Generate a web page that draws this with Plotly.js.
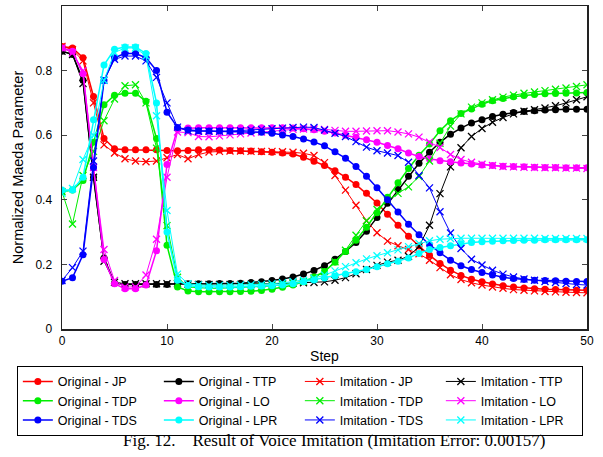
<!DOCTYPE html>
<html>
<head>
<meta charset="utf-8">
<script src="https://cdn.plot.ly/plotly-3.0.1.min.js"></script>
<style>html,body{margin:0;padding:0;background:#fff;}#chart{width:603px;height:457px;}</style>
</head>
<body>
<div id="chart"></div>
<script>
const steps = Array.from({length: 51}, (_, i) => i);

const origJP = [0.875,0.87,0.84,0.72,0.59,0.558,0.555,0.555,0.555,0.555,0.553,0.552,0.553,0.555,0.555,0.554,0.553,0.552,0.551,0.549,0.547,0.545,0.542,0.532,0.519,0.506,0.49,0.47,0.447,0.42,0.39,0.355,0.321,0.287,0.257,0.228,0.203,0.182,0.166,0.154,0.146,0.139,0.134,0.13,0.127,0.125,0.123,0.122,0.121,0.12,0.12];
const imitJP = [0.875,0.865,0.83,0.70,0.57,0.545,0.527,0.52,0.518,0.52,0.53,0.54,0.527,0.54,0.548,0.55,0.551,0.551,0.55,0.55,0.55,0.549,0.547,0.544,0.537,0.515,0.475,0.43,0.383,0.335,0.298,0.272,0.258,0.246,0.233,0.213,0.19,0.168,0.153,0.143,0.136,0.13,0.126,0.122,0.12,0.118,0.116,0.115,0.114,0.113,0.112];

const origTTP = [0.86,0.85,0.77,0.47,0.22,0.142,0.138,0.138,0.138,0.138,0.138,0.139,0.14,0.14,0.14,0.141,0.141,0.142,0.144,0.146,0.15,0.155,0.161,0.17,0.181,0.196,0.216,0.24,0.268,0.303,0.345,0.389,0.432,0.473,0.513,0.547,0.578,0.603,0.622,0.638,0.648,0.658,0.665,0.67,0.673,0.676,0.678,0.679,0.68,0.68,0.68];
const imitTTP = [0.86,0.85,0.76,0.47,0.21,0.145,0.14,0.14,0.14,0.14,0.14,0.14,0.139,0.138,0.138,0.138,0.138,0.138,0.138,0.139,0.14,0.141,0.142,0.143,0.144,0.146,0.151,0.159,0.171,0.184,0.197,0.207,0.213,0.225,0.255,0.321,0.419,0.502,0.561,0.596,0.621,0.64,0.655,0.666,0.674,0.679,0.684,0.691,0.70,0.71,0.719];

const origTDP = [0.425,0.43,0.46,0.578,0.694,0.724,0.73,0.73,0.705,0.59,0.259,0.13,0.118,0.115,0.115,0.115,0.115,0.116,0.117,0.119,0.123,0.129,0.136,0.146,0.161,0.178,0.207,0.24,0.275,0.315,0.36,0.408,0.453,0.497,0.538,0.573,0.614,0.645,0.667,0.681,0.696,0.707,0.714,0.719,0.723,0.726,0.728,0.729,0.73,0.731,0.732];
const imitTDP = [0.425,0.325,0.475,0.55,0.645,0.712,0.753,0.756,0.70,0.56,0.32,0.16,0.13,0.127,0.126,0.126,0.127,0.128,0.129,0.131,0.133,0.137,0.142,0.148,0.158,0.178,0.208,0.244,0.29,0.335,0.37,0.398,0.42,0.44,0.472,0.52,0.575,0.628,0.666,0.687,0.70,0.71,0.718,0.724,0.73,0.734,0.738,0.742,0.746,0.751,0.756];

const origTDS = [0.148,0.159,0.23,0.5,0.769,0.84,0.853,0.853,0.84,0.8,0.671,0.624,0.616,0.614,0.613,0.613,0.612,0.612,0.611,0.609,0.606,0.601,0.596,0.588,0.579,0.567,0.549,0.529,0.503,0.473,0.437,0.4,0.362,0.324,0.292,0.261,0.236,0.213,0.196,0.184,0.175,0.167,0.16,0.156,0.153,0.151,0.15,0.149,0.148,0.147,0.147];
const imitTDS = [0.15,0.19,0.241,0.52,0.77,0.835,0.845,0.845,0.83,0.779,0.70,0.625,0.613,0.612,0.612,0.612,0.613,0.614,0.616,0.618,0.62,0.622,0.624,0.625,0.624,0.616,0.606,0.596,0.58,0.563,0.552,0.545,0.537,0.516,0.475,0.437,0.363,0.297,0.249,0.216,0.198,0.182,0.17,0.161,0.155,0.151,0.147,0.144,0.141,0.138,0.136];

const origLO = [0.87,0.86,0.79,0.5,0.215,0.14,0.125,0.125,0.136,0.242,0.509,0.619,0.622,0.623,0.623,0.623,0.623,0.623,0.623,0.623,0.623,0.623,0.622,0.62,0.617,0.612,0.607,0.6,0.594,0.586,0.578,0.568,0.558,0.545,0.534,0.526,0.521,0.518,0.514,0.511,0.508,0.506,0.504,0.503,0.502,0.501,0.5,0.5,0.499,0.499,0.499];
const imitLO = [0.87,0.855,0.8,0.5,0.246,0.15,0.13,0.13,0.167,0.278,0.47,0.61,0.608,0.596,0.595,0.598,0.601,0.604,0.607,0.61,0.613,0.616,0.618,0.619,0.619,0.618,0.615,0.612,0.612,0.613,0.614,0.614,0.61,0.604,0.594,0.578,0.562,0.54,0.525,0.516,0.51,0.506,0.503,0.502,0.501,0.5,0.499,0.499,0.498,0.498,0.497];

const origLPR = [0.43,0.43,0.47,0.648,0.817,0.866,0.873,0.873,0.853,0.70,0.30,0.151,0.135,0.131,0.13,0.13,0.13,0.131,0.132,0.133,0.134,0.136,0.14,0.146,0.152,0.158,0.164,0.17,0.177,0.184,0.193,0.202,0.21,0.22,0.234,0.246,0.252,0.258,0.264,0.268,0.27,0.272,0.273,0.274,0.275,0.275,0.276,0.276,0.276,0.276,0.276];
const imitLPR = [0.42,0.435,0.525,0.6,0.77,0.856,0.87,0.87,0.845,0.66,0.367,0.17,0.14,0.136,0.135,0.135,0.135,0.136,0.137,0.138,0.14,0.143,0.147,0.151,0.157,0.167,0.18,0.193,0.205,0.217,0.227,0.236,0.245,0.255,0.265,0.273,0.278,0.28,0.281,0.281,0.281,0.281,0.281,0.281,0.281,0.281,0.28,0.28,0.28,0.28,0.28];

const xTicks = [0, 10, 20, 30, 40, 50];
const yTicks = [0, 0.2, 0.4, 0.6, 0.8, 1];

// series definitions: [name, values, color, kind, legend rank]
const series = [
  ['Original - JP',  origJP,  '#ff0000', 'orig', 1],
  ['Original - TTP', origTTP, '#000000', 'orig', 2],
  ['Imitation - JP', imitJP,  '#ff0000', 'imit', 3],
  ['Imitation - TTP',imitTTP, '#000000', 'imit', 4],
  ['Original - TDP', origTDP, '#00ee00', 'orig', 5],
  ['Original - LO',  origLO,  '#ff00ff', 'orig', 6],
  ['Imitation - TDP',imitTDP, '#00ee00', 'imit', 7],
  ['Imitation - LO', imitLO,  '#ff00ff', 'imit', 8],
  ['Original - TDS', origTDS, '#0000ff', 'orig', 9],
  ['Original - LPR', origLPR, '#00ffff', 'orig', 10],
  ['Imitation - TDS',imitTDS, '#0000ff', 'imit', 11],
  ['Imitation - LPR',imitLPR, '#00ffff', 'imit', 12]
];

const traces = series.map(([name, vals, color, kind, rank]) => ({
  x: steps, y: vals, name: name, type: 'scatter', mode: 'lines+markers',
  legendrank: rank,
  line: kind === 'orig' ? {color: color, width: 1.5} : {color: color, width: 1},
  marker: kind === 'orig'
    ? {symbol: 'circle', size: 7, color: color}
    : {symbol: 'x-thin-open', size: 7, color: color, line: {color: color, width: 1.3}}
}));

const layout = {
  width: 603, height: 457,
  margin: {l: 62, r: 16, t: 6, b: 128, autoexpand: false},
  paper_bgcolor: '#fff', plot_bgcolor: '#fff',
  font: {family: 'Liberation Sans, Arial, sans-serif', size: 12, color: '#000'},
  xaxis: {
    range: [0, 50], tickvals: xTicks, ticks: 'inside', ticklen: 5,
    showline: true, linecolor: '#222', linewidth: 1.5, mirror: 'ticks',
    showgrid: false, zeroline: false, tickfont: {size: 12},
    title: {text: 'Step', font: {size: 14}, standoff: 4}
  },
  yaxis: {
    range: [0, 1], tickvals: yTicks, ticks: 'inside', ticklen: 5,
    showline: true, linecolor: '#222', linewidth: 1.5, mirror: 'ticks',
    showgrid: false, zeroline: false, tickfont: {size: 12}, ticklabelstandoff: 6,
    title: {text: 'Normalized Maeda Parameter', font: {size: 14.5}, standoff: 8}
  },
  showlegend: true,
  legend: {
    orientation: 'h', x: -0.086, xanchor: 'left', y: -0.114, yanchor: 'top',
    bordercolor: '#000', borderwidth: 1, bgcolor: '#fff',
    font: {size: 12.5}, entrywidth: 96, entrywidthmode: 'pixels',
    tracegroupgap: 0, itemwidth: 30
  },
  annotations: [{
    xref: 'paper', yref: 'paper', x: 0.518, y: -0.345, xanchor: 'center', yanchor: 'middle',
    showarrow: false,
    text: 'Fig. 12.\u00a0\u00a0\u00a0 Result of Voice Imitation (Imitation Error: 0.00157)',
    font: {family: 'Liberation Serif, Times New Roman, serif', size: 17, color: '#000'}
  }]
};

Plotly.newPlot('chart', traces, layout, {displayModeBar: false, staticPlot: true});
</script>
</body>
</html>
